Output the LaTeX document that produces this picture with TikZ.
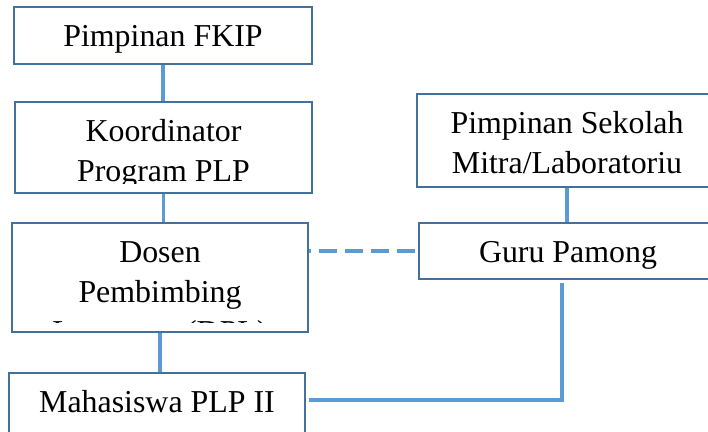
\documentclass[tikz,border=0pt]{standalone}
\usepackage{fontspec}
\setmainfont{Liberation Serif}
\usetikzlibrary{positioning, calc}
\definecolor{boxblue}{HTML}{41719C}
\definecolor{linkblue}{HTML}{5B9BD5}

% box with its text clipped a little above the bottom edge
\newcommand{\orgunit}[5]{%
  \node[unit, minimum width=#3bp, minimum height=#4bp] (#1) at (#2) {};
  \begin{scope}
    \clip ([yshift=11bp]#1.south west) rectangle (#1.north east);
    \node[unittext] (#1-text) at ([yshift=-13bp]#1.north) {\strut #5};
  \end{scope}
}

\begin{document}
\begin{tikzpicture}[x=1bp, y=1bp,
  unit/.style = {draw=boxblue, line width=2.4bp, inner sep=0pt},
  unittext/.style = {anchor=north, align=center, inner sep=0pt, font=\fontsize{32}{40}\selectfont},
  link/.style = {draw=linkblue, line width=3.2bp}]
\useasboundingbox (0,0) rectangle (708,431);
\clip (0,0) rectangle (708,431);
\orgunit{fkip}{163,395.5}{298}{57}{Pimpinan FKIP}
\orgunit{koord}{163.5,283.5}{297}{91}{Koordinator\\Program PLP}
\orgunit{dpl}{160,153.5}{296}{109}{Dosen\\Pembimbing\\Lapangan (DPL)}
\orgunit{mhs}{157,28}{296}{60}{Mahasiswa PLP II}
\orgunit{sekolah}{567,290.5}{300}{93}{Pimpinan Sekolah\\Mitra/Laboratoriu}
\orgunit{guru}{568,180}{298}{56}{Guru Pamong}
\coordinate (guru-tap) at (562,148);
\draw[link] (fkip.south) -- (fkip.south |- koord.north);
\draw[link] (koord.south) -- (koord.south |- dpl.north);
\draw[link] (dpl.south) -- (dpl.south |- mhs.north);
\draw[link] (sekolah.south) -- (sekolah.south |- guru.north);
\draw[link, dash pattern=on 18bp off 8bp, dash phase=16bp] (dpl.east |- guru.west) -- (guru.west);
\draw[link] ([xshift=3bp,yshift=3bp]mhs.east) -| (guru-tap);
\end{tikzpicture}
\end{document}
